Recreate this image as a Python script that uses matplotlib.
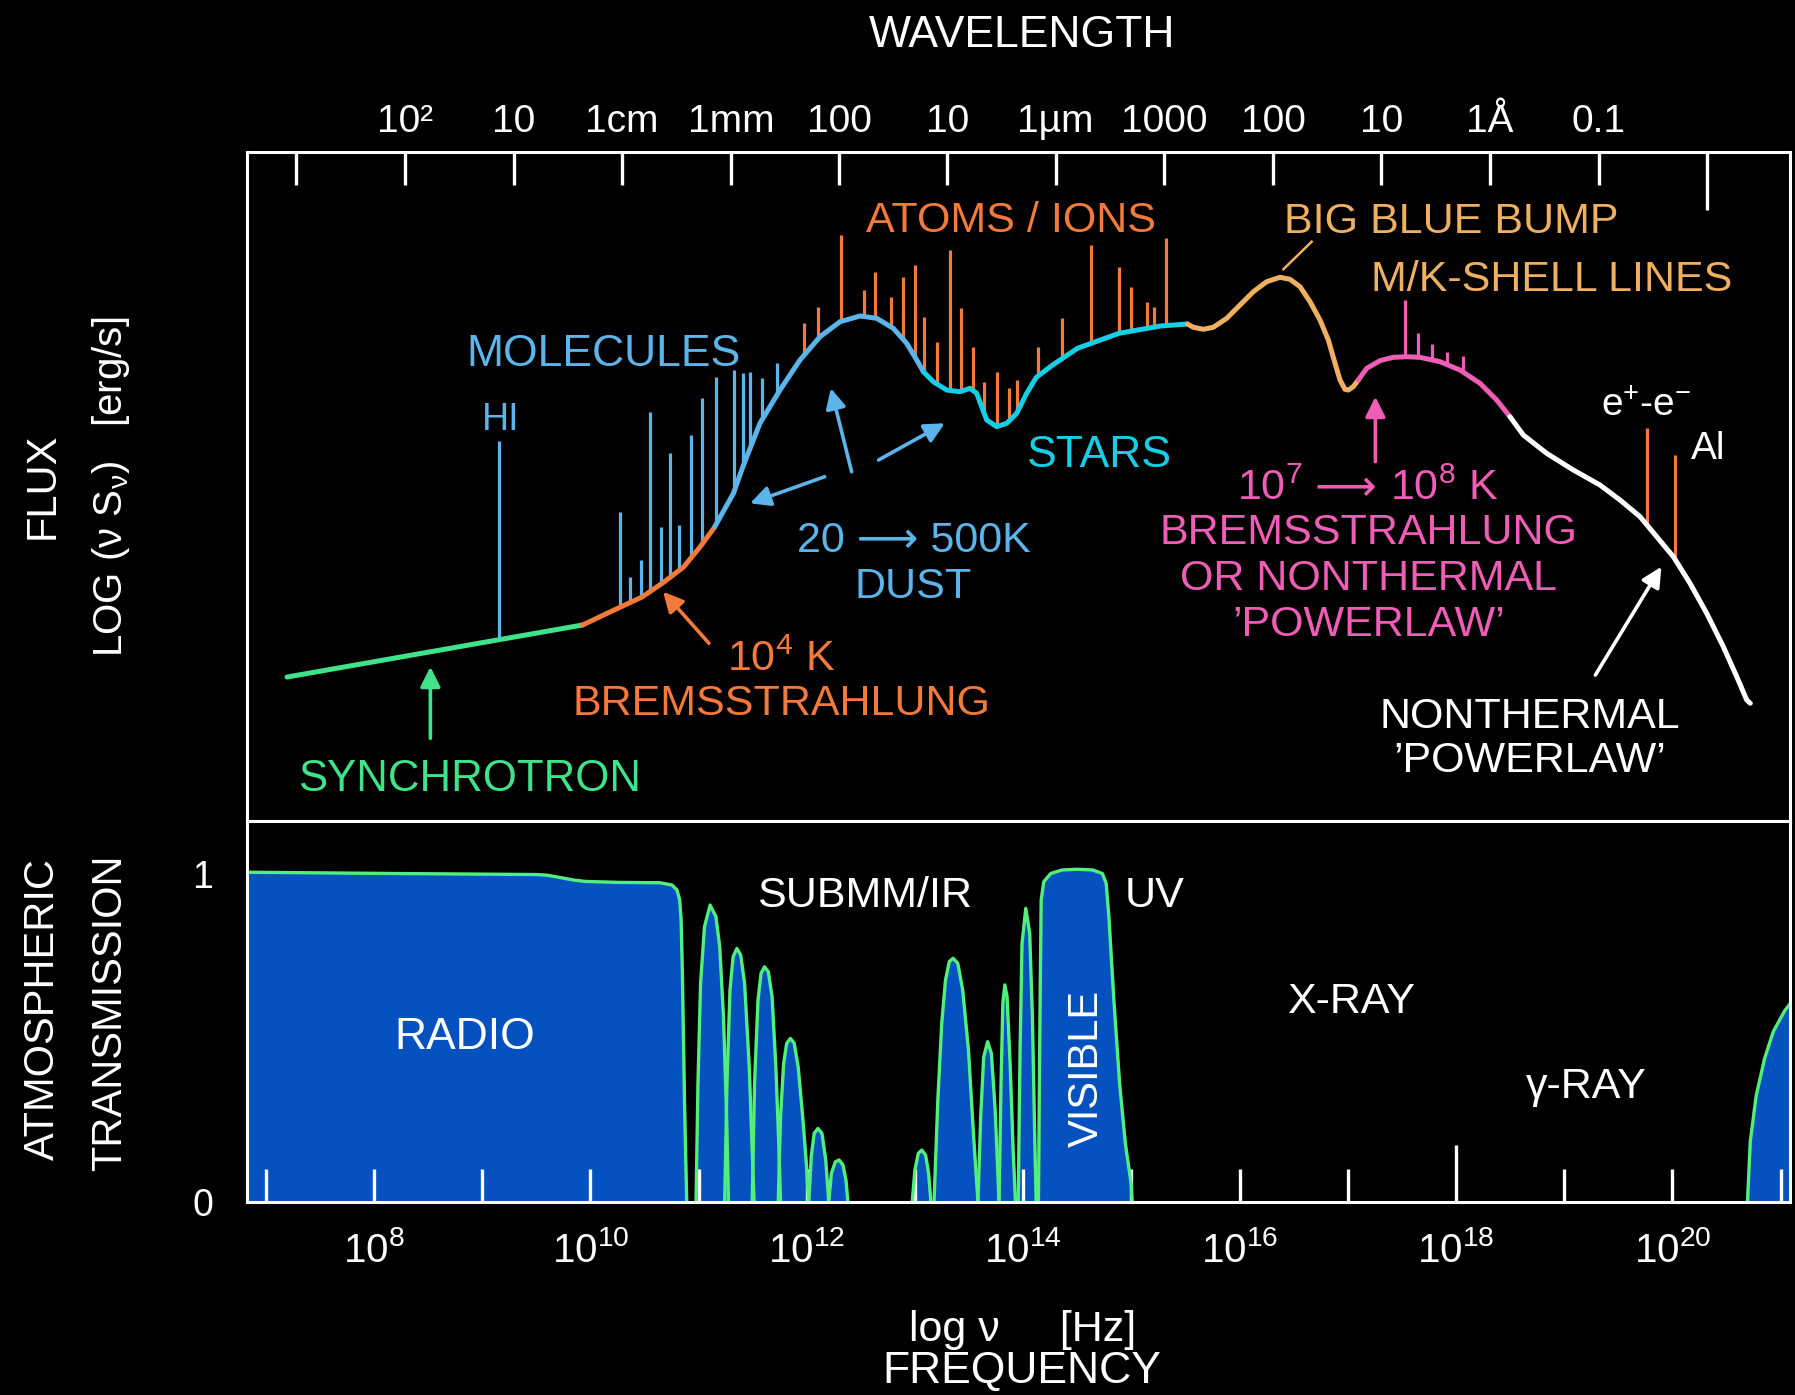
import numpy as np
import matplotlib
matplotlib.use("Agg")
import matplotlib.pyplot as plt

plt.rcParams['font.family'] = ['Liberation Sans', 'DejaVu Sans']
plt.rcParams['mathtext.fontset'] = 'custom'
plt.rcParams['mathtext.rm'] = 'Liberation Sans'
plt.rcParams['mathtext.it'] = 'Liberation Sans:italic'
plt.rcParams['mathtext.bf'] = 'Liberation Sans:bold'
plt.rcParams['axes.unicode_minus'] = False

# ---------------- data (x = log nu [Hz], y = log flux, arbitrary units) ----------------
sync_x = [7.196, 9.928]
sync_y = [2.152, 2.930]
brems_x = [9.928, 10.200, 10.477, 10.680, 10.861, 11.013, 11.149]
brems_y = [2.930, 3.139, 3.348, 3.572, 3.797, 4.096, 4.395]
dust_x = [11.149, 11.322, 11.41, 11.567, 11.752, 11.937, 12.122, 12.307, 12.492,
          12.646, 12.799, 12.923, 13.016, 13.077]
dust_y = [4.399, 4.898, 5.30, 5.945, 6.442, 6.891, 7.239, 7.463, 7.549,
          7.514, 7.365, 7.140, 6.891, 6.716]
stars_x = [13.077, 13.169, 13.293, 13.416, 13.508, 13.570, 13.616, 13.663, 13.755,
           13.848, 13.940, 14.032, 14.12, 14.272, 14.502, 14.885, 15.268, 15.518]
stars_y = [6.716, 6.566, 6.442, 6.417, 6.468, 6.393, 6.193, 5.994, 5.894,
           5.945, 6.094, 6.393, 6.63, 6.816, 7.066, 7.290, 7.399, 7.429]
bbb_x = [15.518, 15.572, 15.665, 15.757, 15.881, 16.004, 16.127, 16.250, 16.373,
         16.466, 16.558, 16.651, 16.743, 16.820, 16.882, 16.928, 16.974, 17.005,
         17.051, 17.097]
bbb_y = [7.429, 7.380, 7.350, 7.380, 7.514, 7.713, 7.912, 8.061, 8.127,
         8.097, 7.987, 7.762, 7.489, 7.190, 6.841, 6.592, 6.453, 6.442,
         6.492, 6.592]
hot_x = [17.097, 17.175, 17.298, 17.421, 17.544, 17.667, 17.852, 18.037, 18.222, 18.376, 18.499]
hot_y = [6.592, 6.767, 6.881, 6.931, 6.940, 6.931, 6.866, 6.741, 6.543, 6.293, 6.043]
nt_x = [18.499, 18.622, 18.838, 19.084, 19.331, 19.516, 19.701, 19.855, 20.009,
        20.163, 20.317, 20.471, 20.595, 20.687, 20.720]
nt_y = [6.043, 5.770, 5.496, 5.247, 5.022, 4.798, 4.549, 4.250, 3.951,
        3.553, 3.105, 2.605, 2.157, 1.809, 1.760]

# emission lines (position, top)
hi_x = [9.159]
hi_top = [5.680]
mol_x = [10.275, 10.364, 10.471, 10.555, 10.651, 10.739, 10.823, 10.931, 11.034,
         11.161, 11.329, 11.406, 11.475, 11.590, 11.725]
mol_top = [4.623, 3.652, 3.901, 6.118, 4.399, 5.496, 4.425, 5.770, 6.318,
           6.641, 6.741, 6.692, 6.716, 6.617, 6.841]
atom_x = [11.973, 12.107, 12.318, 12.529, 12.632, 12.778, 12.893, 13.000, 13.084,
          13.199, 13.325, 13.421, 13.536, 13.640, 13.755, 13.870, 13.946, 14.138,
          14.356, 14.625, 14.885, 15.000, 15.146, 15.209, 15.318]
atom_top = [7.439, 7.688, 8.759, 7.937, 8.211, 7.837, 8.136, 8.311, 7.538,
            7.164, 8.535, 7.664, 7.090, 6.566, 6.716, 6.468, 6.592, 7.090,
            7.514, 8.610, 8.286, 7.987, 7.762, 7.688, 8.710]
kshell_x = [17.529, 17.652, 17.781, 17.914, 18.062]
kshell_top = [7.788, 7.299, 7.130, 7.015, 6.951]
gline_x = [19.764, 20.027]
gline_top = [5.879, 5.471]

# atmospheric transmission windows (log nu, transmission)
radio_x = [6.826, 8.24, 9.505, 9.60, 9.719, 9.85, 9.955, 10.274, 10.643, 10.754,
           10.80, 10.825, 10.838, 10.85, 10.87, 10.89]
radio_t = [1.004, 1.0, 0.997, 0.995, 0.988, 0.98, 0.976, 0.973, 0.972, 0.965,
           0.95, 0.92, 0.86, 0.7, 0.3, 0.0]
sub1_x = [10.976, 10.994, 11.018, 11.054, 11.106, 11.160, 11.195, 11.230, 11.259, 11.276]
sub1_t = [0, 0.361, 0.665, 0.838, 0.904, 0.869, 0.777, 0.564, 0.260, 0]
sub2_x = [11.241, 11.262, 11.290, 11.319, 11.354, 11.389, 11.425, 11.468, 11.495, 11.513]
sub2_t = [0, 0.361, 0.645, 0.747, 0.772, 0.752, 0.666, 0.412, 0.158, 0]
sub3_x = [11.495, 11.517, 11.549, 11.577, 11.609, 11.644, 11.679, 11.714, 11.743, 11.757]
sub3_t = [0, 0.361, 0.615, 0.696, 0.716, 0.701, 0.625, 0.412, 0.158, 0]
sub4_x = [11.736, 11.757, 11.786, 11.814, 11.849, 11.884, 11.920, 11.962, 11.998, 12.016]
sub4_t = [0, 0.260, 0.422, 0.483, 0.498, 0.483, 0.412, 0.260, 0.108, 0]
sub5_x = [12.019, 12.041, 12.068, 12.103, 12.140, 12.175, 12.203]
sub5_t = [0, 0.138, 0.209, 0.224, 0.209, 0.128, 0]
sub6_x = [12.203, 12.227, 12.263, 12.298, 12.334, 12.362, 12.380]
sub6_t = [0, 0.087, 0.122, 0.128, 0.113, 0.067, 0]
ir1_x = [12.974, 12.999, 13.030, 13.063, 13.098, 13.126, 13.147]
ir1_t = [0, 0.097, 0.148, 0.158, 0.143, 0.087, 0]
ir2_x = [13.176, 13.211, 13.247, 13.282, 13.317, 13.352, 13.395, 13.441, 13.494, 13.540, 13.582]
ir2_t = [0, 0.311, 0.544, 0.676, 0.732, 0.742, 0.727, 0.645, 0.463, 0.209, 0]
ir3_x = [13.582, 13.607, 13.635, 13.671, 13.706, 13.741, 13.777]
ir3_t = [0, 0.260, 0.442, 0.488, 0.452, 0.280, 0]
ir4_x = [13.777, 13.795, 13.812, 13.830, 13.851, 13.880, 13.907, 13.929]
ir4_t = [0, 0.361, 0.605, 0.661, 0.625, 0.412, 0.158, 0]
ir5_x = [13.954, 13.971, 13.989, 14.024, 14.060, 14.085, 14.106, 14.120]
ir5_t = [0, 0.463, 0.787, 0.894, 0.818, 0.564, 0.209, 0]
vis_x = [14.141, 14.155, 14.166, 14.190, 14.254, 14.360, 14.502, 14.643, 14.732,
         14.767, 14.792, 14.838, 14.891, 14.944, 14.997, 15.007]
vis_t = [0, 0.564, 0.919, 0.975, 1.0, 1.011, 1.013, 1.011, 1.0,
         0.970, 0.869, 0.615, 0.361, 0.179, 0.057, 0]
gamma_x = [20.694, 20.720, 20.774, 20.853, 20.933, 21.039, 21.134]
gamma_t = [0, 0.184, 0.323, 0.438, 0.519, 0.583, 0.623]

# axes ticks
wl_pos = [7.28, 8.29, 9.29, 10.29, 11.30, 12.30, 13.30, 14.30, 15.30, 16.31, 17.31, 18.31, 19.32]
wl_labels = ['', '10²', '10', '1cm', '1mm', '100', '10', '1µm', '1000', '100', '10', '1Å', '0.1']
wl_long_pos = [20.32]
nu_pos = [7, 8, 9, 10, 11, 12, 13, 14, 15, 16, 17, 19, 20, 21]
nu_labels = ['', r'$\mathregular{10^{8}}$', '', r'$\mathregular{10^{10}}$', '',
             r'$\mathregular{10^{12}}$', '', r'$\mathregular{10^{14}}$', '',
             r'$\mathregular{10^{16}}$', '', '', r'$\mathregular{10^{20}}$', '']
nu_long_pos = [18]
nu_long_labels = [r'$\mathregular{10^{18}}$']

# ---------------- styling ----------------
ORANGE = '#f37a3a'
LBLUE = '#5cb5ea'
CYAN = '#16cfe6'
TAN = '#f0b062'
PINK = '#ef5db6'
GREEN = '#3fe38a'
FILL = '#0451bf'
TGREEN = '#52ef7c'

W, H = 1795, 1395
fig = plt.figure(figsize=(W / 100, H / 100), dpi=100, facecolor='black')
XL, XR = 247, 1790
Y_TOP, Y_MID, Y_BOT = 152, 821, 1202
ax1 = fig.add_axes([XL / W, 1 - Y_MID / H, (XR - XL) / W, (Y_MID - Y_TOP) / H])
ax2 = fig.add_axes([XL / W, 1 - Y_BOT / H, (XR - XL) / W, (Y_BOT - Y_MID) / H])
for ax in (ax1, ax2):
    ax.set_facecolor('black')
    ax.set_xlim(6.826, 21.087)
    for sp in ax.spines.values():
        sp.set_color('white')
        sp.set_linewidth(2.2)
ax1.set_ylim(0, 10)
ax2.set_ylim(0, 1.16)

# ---- top panel: SED ----
segments = [(sync_x, sync_y, GREEN), (brems_x, brems_y, ORANGE), (dust_x, dust_y, LBLUE),
            (stars_x, stars_y, CYAN), (bbb_x, bbb_y, TAN), (hot_x, hot_y, PINK),
            (nt_x, nt_y, 'white')]
sed_x = np.concatenate([s[0] for s in segments])
sed_y = np.concatenate([s[1] for s in segments])


def spikes(xs, tops, color):
    xs = np.asarray(xs, float)
    base = np.interp(xs, sed_x, sed_y)
    ax1.vlines(xs, base, tops, colors=color, lw=2.3, zorder=2)


spikes(hi_x, hi_top, LBLUE)
spikes(mol_x, mol_top, LBLUE)
spikes(atom_x, atom_top, ORANGE)
spikes(kshell_x, kshell_top, PINK)
spikes(gline_x, gline_top, ORANGE)

for xs, ys, c in segments:
    ax1.plot(xs, ys, color=c, lw=3.6, solid_capstyle='round', solid_joinstyle='round', zorder=3)


def arrow(tail, head, color):
    ax1.annotate('', xy=head, xytext=tail,
                 arrowprops=dict(arrowstyle='-|>', color=color, lw=2.6,
                                 mutation_scale=30, shrinkA=0, shrinkB=0), zorder=4)


arrow((8.521, 1.236), (8.521, 2.306), GREEN)
arrow((11.096, 2.656), (10.671, 3.428), ORANGE)
arrow((12.414, 5.221), (12.222, 6.468), LBLUE)
arrow((12.165, 5.146), (11.475, 4.749), LBLUE)
arrow((12.663, 5.396), (13.275, 5.945), LBLUE)
arrow((17.255, 5.371), (17.255, 6.342), PINK)
arrow((19.288, 2.182), (19.898, 3.801), 'white')
ax1.plot([16.404, 16.666], [8.247, 8.659], color=TAN, lw=1.8, zorder=4)

# ---- bottom panel: transmission ----
windows = [(radio_x, radio_t), (sub1_x, sub1_t), (sub2_x, sub2_t), (sub3_x, sub3_t),
           (sub4_x, sub4_t), (sub5_x, sub5_t), (sub6_x, sub6_t), (ir1_x, ir1_t),
           (ir2_x, ir2_t), (ir3_x, ir3_t), (ir4_x, ir4_t), (ir5_x, ir5_t),
           (vis_x, vis_t), (gamma_x, gamma_t)]
for xs, ts in windows:
    ax2.fill_between(xs, 0, ts, color=FILL, lw=0, zorder=1)
for xs, ts in windows:
    ax2.plot(xs, ts, color=TGREEN, lw=2.4, solid_joinstyle='round', zorder=2)

# ---- ticks ----
ax1.set_xticks(wl_pos, labels=wl_labels)
ax1.set_xticks(wl_long_pos, labels=[''], minor=True)
ax1.tick_params(axis='x', which='both', direction='in', top=True, bottom=False,
                labeltop=True, labelbottom=False, colors='white', width=2.4,
                pad=8.7, labelsize=28)
ax1.tick_params(axis='x', which='major', length=23.8)
ax1.tick_params(axis='x', which='minor', length=41.8)
ax1.set_yticks([])

ax2.set_xticks(nu_pos, labels=nu_labels)
ax2.set_xticks(nu_long_pos, labels=nu_long_labels, minor=True)
ax2.tick_params(axis='x', which='both', direction='in', bottom=True, top=False,
                colors='white', width=2.4, pad=21, labelsize=29)
ax2.tick_params(axis='x', which='major', length=23.5)
ax2.tick_params(axis='x', which='minor', length=41.0)
ax2.set_yticks([0, 1], labels=['0', '1'])
ax2.tick_params(axis='y', length=0, pad=24.5, labelsize=27, colors='white')


# ---- text ----
def ftext(x, y, s, size, color='white', rot=0, ha='center'):
    cap = 0.716 * size * 100 / 72
    if rot:
        fig.text((x + cap / 2) / W, 1 - y / H, s, fontsize=size, color=color, rotation=90,
                 rotation_mode='anchor', ha='center', va='baseline')
    else:
        fig.text(x / W, 1 - (y + cap / 2) / H, s, fontsize=size, color=color,
                 ha=ha, va='baseline')


ftext(1022.3, 30.9, 'WAVELENGTH', 32)
ftext(1010.9, 216.4, 'ATOMS / IONS', 31, ORANGE)
ftext(1451.6, 217.5, 'BIG BLUE BUMP', 31, TAN)
ftext(1551.2, 275.9, 'M/K-SHELL LINES', 31, TAN)
ftext(603.3, 350.3, 'MOLECULES', 32, LBLUE)
ftext(500.3, 416.7, 'HI', 27, LBLUE)
ftext(1099, 451, 'STARS', 32, CYAN)
ftext(913.6, 536.9, '20 ⟶ 500K', 31, LBLUE)
ftext(913.6, 582.7, 'DUST', 31, LBLUE)
ftext(781.3, 655.4, r'$\mathregular{10^{4}}$ K', 31, ORANGE)
ftext(781.3, 699.5, 'BREMSSTRAHLUNG', 31, ORANGE)
ftext(469.4, 775, 'SYNCHROTRON', 31.5, GREEN)
ftext(1302, 484.8, r'$\mathregular{10^{7}}$', 31, PINK, ha='right')
ftext(1345.5, 484.8, '⟶', 31, PINK)
ftext(1390, 484.8, r'$\mathregular{10^{8}}$ K', 31, PINK, ha='left')
ftext(1368.6, 528.9, 'BREMSSTRAHLUNG', 31, PINK)
ftext(1368.6, 574.7, 'OR NONTHERMAL', 31, PINK)
ftext(1368.6, 620.5, '’POWERLAW’', 31, PINK)
ftext(1529.5, 712.1, 'NONTHERMAL', 31)
ftext(1529.5, 756.7, '’POWERLAW’', 31)
ftext(1646.2, 402.8, r'$\mathregular{e^{+}}$-$\mathregular{e^{-}}$', 28)
ftext(1708, 445.3, 'Al', 28)

ftext(864.3, 891.8, 'SUBMM/IR', 31)
ftext(1154, 891.8, 'UV', 31)
ftext(464.8, 1032.6, 'RADIO', 32)
ftext(1083, 1068.1, 'VISIBLE', 30, rot=90)
ftext(1350.9, 997.1, 'X-RAY', 31)
ftext(1586.7, 1083, 'γ-RAY', 31)
ftext(1022.3, 1325.5, 'log ν     [Hz]', 31)
ftext(1022.3, 1367.0, 'FREQUENCY', 32)

ftext(38.7, 486.0, 'FLUX', 30, rot=90)
ftext(107.6, 486.7, 'LOG (ν S$_{\\mathregular{ν}}$)   [erg/s]', 29, rot=90)
ftext(38.7, 1008.7, 'ATMOSPHERIC', 30, rot=90)
ftext(106.0, 1012.5, 'TRANSMISSION', 30, rot=90)

fig.savefig('out.png', dpi=100, facecolor='black')
